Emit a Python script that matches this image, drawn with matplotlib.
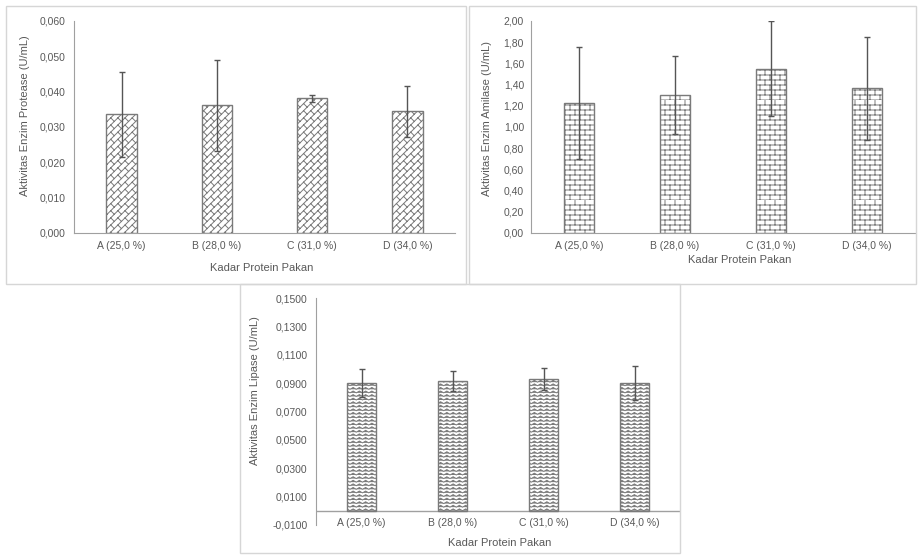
import warnings
import numpy as np
import matplotlib
matplotlib.use("Agg")
import matplotlib.pyplot as plt
import matplotlib.hatch as mhatch
from matplotlib.path import Path
from matplotlib.patches import Rectangle

warnings.filterwarnings("ignore")

categories = ["A (25,0 %)", "B (28,0 %)", "C (31,0 %)", "D (34,0 %)"]
protease = [0.0336, 0.0361, 0.0381, 0.0344]
protease_err = [0.0120, 0.0130, 0.0009, 0.0072]
amilase = [1.226, 1.302, 1.550, 1.365]
amilase_err = [0.530, 0.370, 0.450, 0.485]
lipase = [0.0900, 0.0913, 0.0930, 0.0903]
lipase_err = [0.0100, 0.0072, 0.0080, 0.0120]

TXT = "#595959"
AX = "#a0a0a0"
BAR = "#7a7a7a"


# custom hatch patterns (Excel like) .........................................
class _PreBuilt(mhatch.HatchPatternBase):
    def _store(self, segs, polylines=()):
        verts, codes = [], []
        for a, b in segs:
            verts += [a, b]
            codes += [Path.MOVETO, Path.LINETO]
        for pl in polylines:
            verts += list(pl)
            codes += [Path.MOVETO] + [Path.LINETO] * (len(pl) - 1)
        self.v = np.array(verts, float).reshape(-1, 2)
        self.c = np.array(codes, dtype=Path.code_type)
        self.num_vertices = len(self.v)

    def set_vertices_and_codes(self, vertices, codes):
        vertices[:] = self.v
        codes[:] = self.c


class BrickHatch(_PreBuilt):
    # horizontal brick, char 'b'
    def __init__(self, hatch, density):
        self.num_vertices = 0
        if "b" not in hatch:
            return
        rows, cols = 20, 10
        segs = []
        for i in range(rows):
            y0 = i / rows
            segs.append(((0.0, y0), (1.0, y0)))
            for j in range(cols + 1):
                x = (j + 0.5 * (i % 2)) / cols
                segs.append(((x, y0), (x, y0 + 1 / rows)))
        self._store(segs)


class DiagBrickHatch(_PreBuilt):
    # diagonal brick, char 'w'
    def __init__(self, hatch, density):
        self.num_vertices = 0
        if "w" not in hatch:
            return
        n = 14
        m = 14
        segs = []
        for k in range(-n, n + 1):
            c = k / n
            segs.append(((-1.0, -1.0 + c), (2.0, 2.0 + c)))
        for k in range(-n - 1, n + 1):
            c = k / n
            for j in range(-m - 1, 2 * m + 2):
                t = j / m
                p0 = (t, t + c)
                p1 = (t - 1 / (2 * n), t + c + 1 / (2 * n))
                if -0.2 < p0[0] < 1.2 and -0.2 < p0[1] < 1.2:
                    segs.append((p0, p1))
        self._store(segs)


class ZigzagHatch(_PreBuilt):
    # zig zag, char 'z'
    def __init__(self, hatch, density):
        self.num_vertices = 0
        if "z" not in hatch:
            return
        rows, teeth, amp = 28, 16, 0.018
        lines = []
        for i in range(rows + 1):
            y0 = i / rows
            pts = [(j / (2 * teeth), y0 + amp * (j % 2)) for j in range(2 * teeth + 1)]
            lines.append(pts)
        self._store([], lines)


mhatch._hatch_types += [BrickHatch, DiagBrickHatch, ZigzagHatch]

plt.rcParams["font.family"] = ["Liberation Sans", "DejaVu Sans"]
plt.rcParams["hatch.linewidth"] = 0.7
plt.rcParams["hatch.color"] = BAR

W, H = 918, 555
fig = plt.figure(figsize=(W / 100, H / 100), dpi=100)


def px_axes(x0, y0, x1, y1):
    return fig.add_axes([x0 / W, 1 - y1 / H, (x1 - x0) / W, (y1 - y0) / H])


def frame(x0, y0, x1, y1):
    fig.patches.append(Rectangle((x0 / W, 1 - y1 / H), (x1 - x0) / W, (y1 - y0) / H,
                                 transform=fig.transFigure, fill=False,
                                 edgecolor="#d6d6d6", linewidth=1.0))


def panel(ax, vals, errs, hatch, ticks, fmt, ylab, ylab_xy, xlab_xy, zero_line=False,
          xpad=6, ypad=6):
    x = np.arange(len(categories))
    ax.bar(x, vals, width=0.32, color="white", edgecolor=BAR, linewidth=1.0,
           hatch=hatch, zorder=2)
    ax.errorbar(x, vals, yerr=errs, fmt="none", ecolor="#555555", elinewidth=1.0,
                capsize=2.5, capthick=1.0, zorder=3)
    ax.set_xlim(-0.5, len(categories) - 0.5)
    ax.set_ylim(ticks[0], ticks[-1])
    ax.set_yticks(ticks)
    ax.set_yticklabels([fmt.format(t).replace(".", ",") for t in ticks])
    ax.set_xticks(x)
    ax.set_xticklabels(categories)
    ax.tick_params(length=0, labelsize=7.5, labelcolor=TXT)
    ax.tick_params(axis="x", pad=xpad)
    ax.tick_params(axis="y", pad=ypad)
    for s in ["top", "right"]:
        ax.spines[s].set_visible(False)
    ax.spines["left"].set_color(AX)
    ax.spines["bottom"].set_color(AX)
    if zero_line:
        ax.spines["bottom"].set_visible(False)
        ax.axhline(0, color=AX, linewidth=1.0, zorder=1)
    ax.set_facecolor("none")
    fig.text(ylab_xy[0] / W, 1 - ylab_xy[1] / H, ylab, rotation=90, ha="center",
             va="center", fontsize=8, color=TXT)
    fig.text(xlab_xy[0] / W, 1 - xlab_xy[1] / H, "Kadar Protein Pakan", ha="center",
             va="center", fontsize=8, color=TXT)


# panel frames
frame(6, 6, 466, 284)
frame(469, 6, 916, 284)
frame(240, 284, 680, 553)

ax1 = px_axes(74, 21, 455, 233)
panel(ax1, protease, protease_err, "w", np.linspace(0, 0.06, 7), "{:.3f}",
      "Aktivitas Enzim Protease (U/mL)", (25, 116), (262, 268))

ax2 = px_axes(531, 21, 915, 233)
panel(ax2, amilase, amilase_err, "b", np.linspace(0, 2.0, 11), "{:.2f}",
      "Aktivitas Enzim Amilase (U/mL)", (487, 119), (740, 260), ypad=5)

ax3 = px_axes(316, 298, 680, 525)
panel(ax3, lipase, lipase_err, "z", np.linspace(-0.01, 0.15, 9), "{:.4f}",
      "Aktivitas Enzim Lipase (U/mL)", (255, 391), (500, 543), zero_line=True,
      xpad=-5)

fig.savefig("out.png", dpi=100)
